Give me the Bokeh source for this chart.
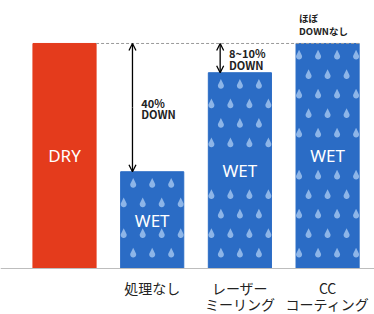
import numpy as np
from bokeh.plotting import figure
from bokeh.models import Range1d, Arrow, OpenHead, Span
from bokeh.embed import file_html
from bokeh.resources import INLINE
from bokeh.core.properties import value

# ---- data ----
categories = ["", "処理なし", "レーザー\nミーリング", "CC\nコーティング"]
bar_values = [100, 43, 87, 100]
bar_labels = ["DRY", "WET", "WET", "WET"]
down_labels = ["", "40%\nDOWN", "8~10%\nDOWN", "ほぼ\nDOWNなし"]
bar_colors = ["#E43B1C", "#2B6CC5", "#2B6CC5", "#2B6CC5"]
drop_color = "#8DB5E8"

# ---- layout helpers ----
W, H = 374, 314
x0, x1 = -0.730, 3.535
y0, y1 = -20.44, 119.1
sx = W / (x1 - x0)          # px per x unit
sy = H / (y1 - y0)          # px per y unit
bw = 0.72                   # bar width
ref = bar_values[0]

p = figure(width=W, height=H, output_backend="svg", toolbar_location=None,
           x_range=Range1d(x0, x1), y_range=Range1d(y0, y1),
           x_axis_type=None, y_axis_type=None, min_border=0)
p.outline_line_color = None
p.grid.visible = False
p.background_fill_color = "white"

idx = list(range(len(bar_values)))
p.vbar(x=idx, top=bar_values, width=bw, color=bar_colors)

# ---- rain drops ----
def drop_shape(cx, cy, left, right):
    r, d = 3.0, 6.8
    a = np.degrees(np.arccos(r / d))
    angs = np.radians(np.linspace(90 + a, 360 + 90 - a, 18))
    xs = [0.0] + list(r * np.cos(angs))
    ys = [d] + list(r * np.sin(angs))
    X = [min(max(cx + v / sx, left), right) for v in xs]
    Y = [cy + v / sy for v in ys]
    return X, Y

dxs, dys = [], []
step_x, step_y = 19.0 / sx, 19.5 / sy
for i, (v, lab) in enumerate(zip(bar_values, bar_labels)):
    if lab != "WET":
        continue
    left, right = i - bw / 2, i + bw / 2
    ly = v / 2
    rows = []
    y = v - 13 / sy
    k = 0 if v < ref else 1
    while y > ly + 14 / sy:
        rows.append((y, k % 2)); y -= step_y; k += 1
    y = 14 / sy
    k = 0 if v < ref else 1
    while y < ly - 14 / sy:
        rows.append((y, k % 2)); y += step_y; k += 1
    for (ry, t) in rows:
        offs = [-1, 0, 1] if t == 0 else [-1.5, -0.5, 0.5, 1.5]
        for o in offs:
            X, Y = drop_shape(i + o * step_x, ry, left, right)
            dxs.append(X); dys.append(Y)
p.patches(dxs, dys, fill_color=drop_color, line_color=None)

# ---- labels inside bars ----
p.text(x=idx, y=[v / 2 for v in bar_values], text=bar_labels,
       text_color="white", text_font=value("Noto Sans"), text_font_size="17px",
       text_align="center", text_baseline="middle")

# ---- reference dashed line ----
p.line(x=[idx[0] + bw / 2, idx[-1] + bw / 2], y=[ref, ref],
       line_color="#9a9a9a", line_dash="3 2", line_width=1)

# ---- baseline ----
p.add_layout(Span(location=0, dimension="width", line_color="#bdbdbd", line_width=1))


def lines_at(xs, ys, texts, gap_px, align, top_anchor=False, **kw):
    """Draw multi-line texts as separate lines (centred on ys, or first line at ys)."""
    lx, ly, lt = [], [], []
    for x, yc, t in zip(xs, ys, texts):
        parts = t.split("\n")
        n = len(parts)
        for j, s in enumerate(parts):
            k = -j if top_anchor else ((n - 1) / 2 - j)
            lx.append(x); ly.append(yc + k * gap_px / sy); lt.append(s)
    p.text(x=lx, y=ly, text=lt, text_align=align, text_baseline="middle", **kw)


# ---- arrows and DOWN labels ----
tx, ty, tt = [], [], []
for i, (v, lab) in enumerate(zip(bar_values, down_labels)):
    if not lab:
        continue
    if v < ref:
        ax = i - bw / 2 + 0.135
        for end_y in (ref, v):
            p.add_layout(Arrow(x_start=ax, y_start=(ref + v) / 2, x_end=ax, y_end=end_y,
                               line_width=1.3, line_color="black",
                               end=OpenHead(size=7, line_width=1.3, line_color="black")))
        tx.append(ax + 0.1); ty.append((ref + v) / 2 - 1 / sy); tt.append(lab)
    else:
        lines_at([i - bw / 2 + 0.035], [v + 8.4], [lab], 13, "left",
                 text_font=value("Noto Sans CJK JP"), text_font_style="bold",
                 text_font_size="9.5px", text_color="#222222")
lines_at(tx, ty, tt, 11.5, "left", text_font=value("Noto Sans CJK JP"),
         text_font_style="bold", text_font_size="11px", text_color="#222222")

# ---- category labels ----
lines_at(idx[1:], [-19.5 / sy] * (len(idx) - 1), categories[1:], 16, "center", top_anchor=True,
         text_font=value("Noto Sans CJK JP"), text_font_size="14px", text_color="#222222")

open("out.html", "w").write(file_html(p, INLINE))
